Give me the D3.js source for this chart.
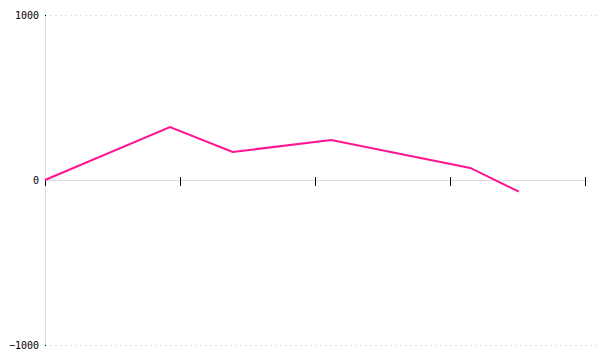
<!DOCTYPE html>
<html>
<head>
<meta charset="utf-8">
<script src="https://cdn.jsdelivr.net/npm/d3@7"></script>
<style>
    body { margin: 0; background: #fff; }
    svg { display: block; }
    .axis text { font-family: "DejaVu Sans Mono", monospace; font-size: 10px; fill: #000; }
</style>
</head>
<body>
<div id="chart"></div>
<script>
'use strict';

// Values.
var xValues = [0, 9.26, 13.9, 21.2, 31.5, 35.1];
var yValues = [0, 321, 170, 242, 73, -71];
var xTicks  = [0, 10, 20, 30, 40];
var yTicks  = [-1000, 0, 1000];

var width  = 600,
    height = 360,
    margin = {top: 15, right: 15, bottom: 15, left: 45},
    innerW = width - margin.left - margin.right,
    innerH = height - margin.top - margin.bottom;

var svg = d3.select('#chart').append('svg')
    .attr('width', width)
    .attr('height', height);

var vis = svg.append('g')
    .attr('transform', 'translate(' + margin.left + ',' + margin.top + ')');

var x = d3.scaleLinear().domain([0, 40]).range([0, innerW]);
var y = d3.scaleLinear().domain([-1000, 1000]).range([innerH, 0]);

// Dotted grid lines at the top and bottom values.
vis.selectAll('.grid')
    .data([1000, -1000])
    .enter().append('line')
    .attr('class', 'grid')
    .attr('x1', 5)
    .attr('x2', width - margin.left)
    .attr('y1', function (d) { return y(d) + 0.5; })
    .attr('y2', function (d) { return y(d) + 0.5; })
    .attr('stroke', '#e3e3e3')
    .attr('stroke-dasharray', '2,3');

// Left axis.
var yAxis = vis.append('g')
    .attr('class', 'axis')
    .call(d3.axisLeft(y).tickValues(yTicks).tickSize(5).tickSizeOuter(0).tickFormat(d3.format('d')));
yAxis.select('.domain').attr('stroke', '#ddd');
yAxis.selectAll('.tick line').attr('x2', 1).attr('stroke', '#000');
yAxis.selectAll('.tick text').attr('x', -6);

// Bottom axis on the zero line, without labels.
var xAxis = vis.append('g')
    .attr('class', 'axis')
    .attr('transform', 'translate(0,' + y(0) + ')')
    .call(d3.axisBottom(x).tickValues(xTicks).tickSize(6).tickSizeOuter(0));
xAxis.select('.domain').attr('stroke', '#ddd');
xAxis.selectAll('.tick line').attr('y1', function (d) { return d === 0 ? 0 : -3; }).attr('stroke', '#000');
xAxis.selectAll('.tick text').remove();

// The line.
var line = d3.line()
    .x(function (d, i) { return x(xValues[i]); })
    .y(function (d) { return y(d); });

vis.append('path')
    .datum(yValues)
    .attr('fill', 'none')
    .attr('stroke', '#ff1493')
    .attr('stroke-width', 2)
    .attr('d', line);
</script>
</body>
</html>
